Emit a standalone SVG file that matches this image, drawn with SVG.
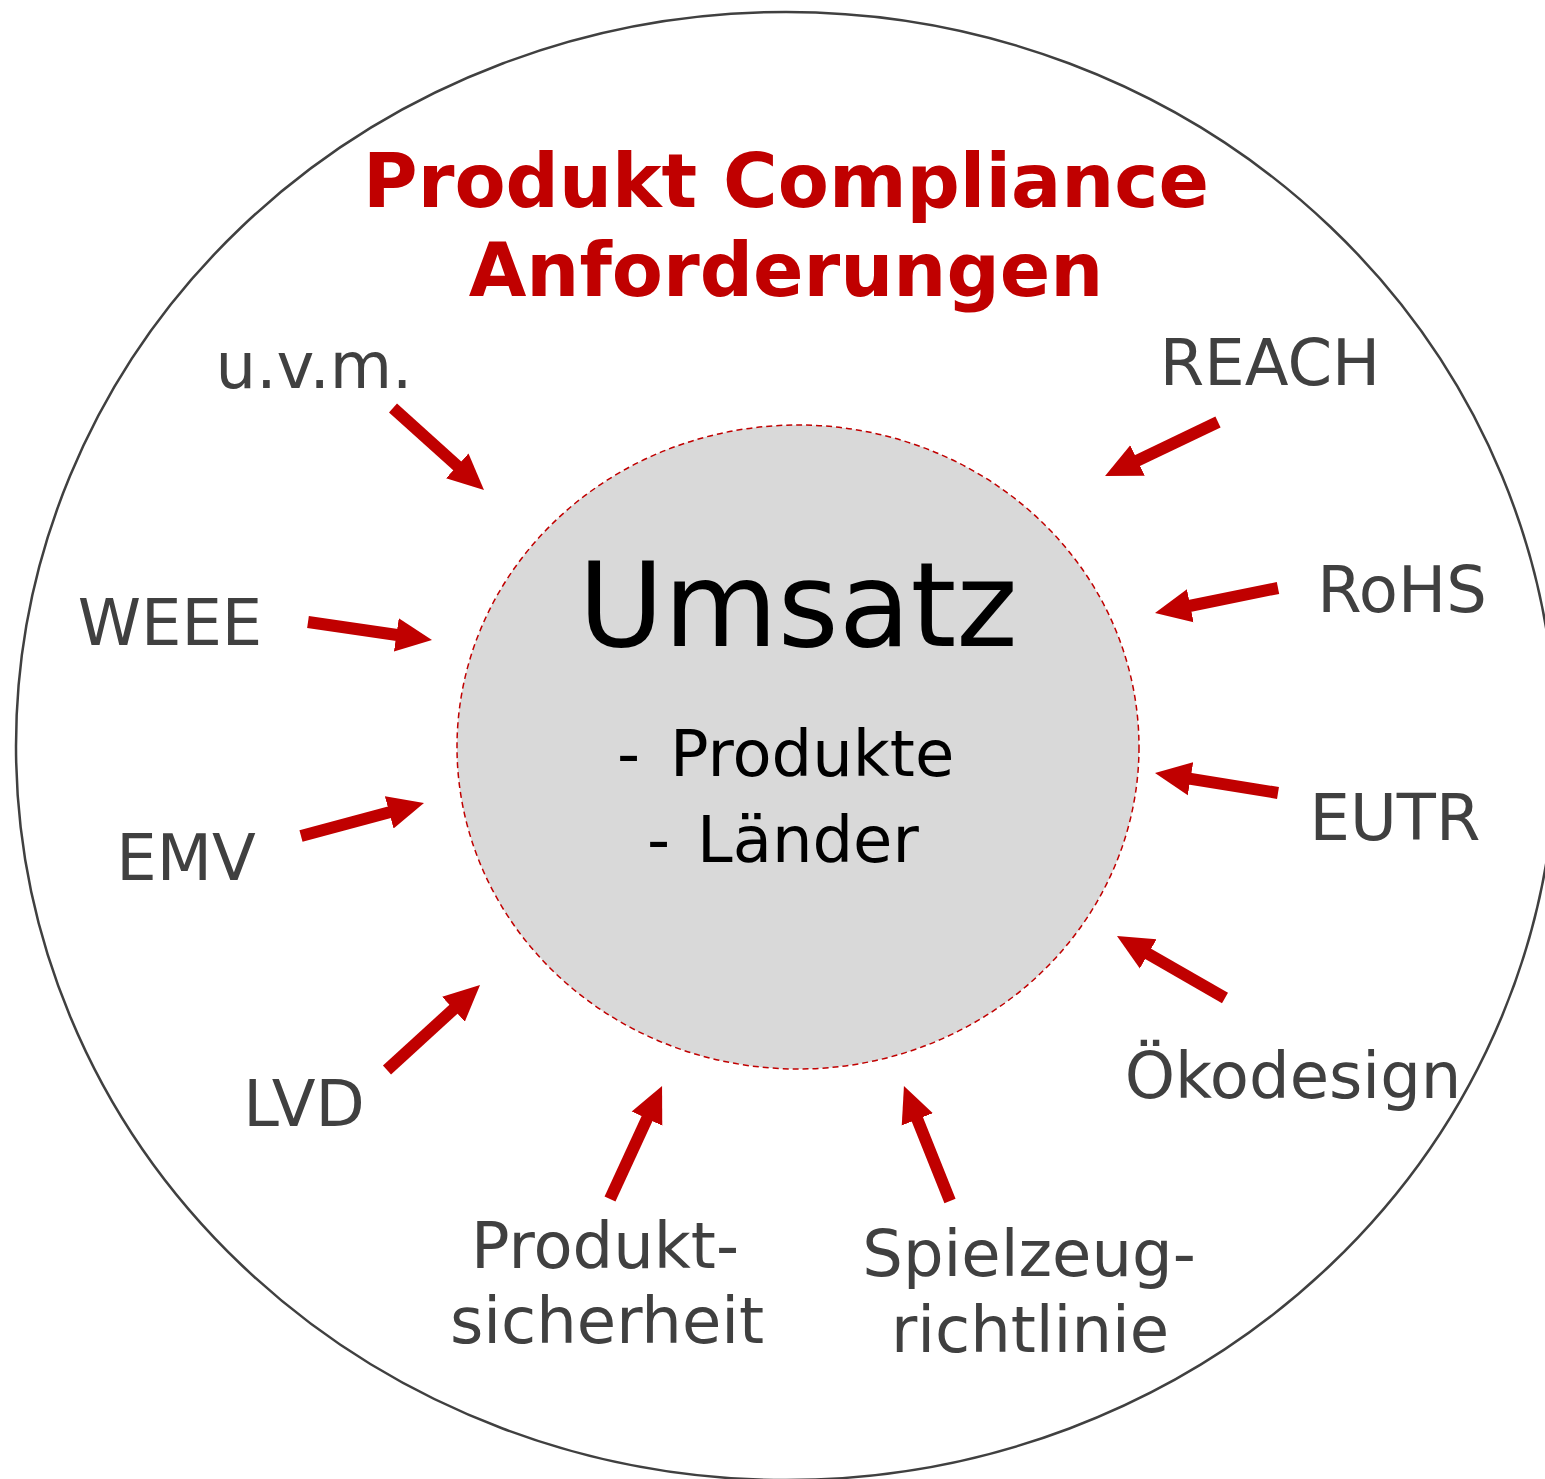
<svg xmlns="http://www.w3.org/2000/svg" width="1545" height="1479" viewBox="0 0 1545 1479">
<style>
.lbl{font-family:"DejaVu Sans",Verdana,sans-serif;font-size:64px;fill:#404040;text-anchor:middle}
.title{font-family:"DejaVu Sans",Verdana,sans-serif;font-size:74.5px;font-weight:bold;fill:#c00000;text-anchor:middle}
.core{font-family:"DejaVu Sans",Verdana,sans-serif;fill:#000}
.arr{stroke:#c00000;stroke-width:12;fill:none;marker-end:url(#ah)}
</style>
<defs>
<marker id="ah" markerUnits="strokeWidth" markerWidth="3" markerHeight="3" refX="0.5" refY="1.4" orient="auto" viewBox="0 0 3 2.8">
<path d="M0,0 L3,1.4 L0,2.8 z" fill="#c00000"/>
</marker>
</defs>
<rect width="1545" height="1479" fill="#fff"/>
<g id="outer">
<ellipse cx="786" cy="746" rx="770" ry="734" fill="none" stroke="#404040" stroke-width="2.5"/>
</g>
<g id="title">
<text class="title" x="786" y="207">Produkt Compliance</text>
<text class="title" x="786" y="296">Anforderungen</text>
</g>
<g id="center">
<ellipse cx="798" cy="747" rx="341" ry="322" fill="#d9d9d9" stroke="#c00000" stroke-width="1.5" stroke-dasharray="6,4"/>
<text class="core" x="798" y="646" font-size="117" text-anchor="middle">Umsatz</text>
<text class="core" x="617" y="776" font-size="64">-</text>
<text class="core" x="670" y="776" font-size="64">Produkte</text>
<text class="core" x="647" y="862" font-size="64">-</text>
<text class="core" x="697" y="862" font-size="64">Länder</text>
</g>
<g id="connectors">
<line class="arr" x1="393" y1="408" x2="461.7" y2="469.9"/>
<line class="arr" x1="1218" y1="422" x2="1132.1" y2="463.1"/>
<line class="arr" x1="308" y1="622" x2="402.3" y2="635.7"/>
<line class="arr" x1="1278" y1="588" x2="1184.4" y2="607.0"/>
<line class="arr" x1="301" y1="836" x2="395.0" y2="810.8"/>
<line class="arr" x1="1278" y1="793" x2="1184.6" y2="777.8"/>
<line class="arr" x1="387" y1="1070" x2="457.9" y2="1005.2"/>
<line class="arr" x1="1225" y1="998" x2="1143.0" y2="950.9"/>
<line class="arr" x1="610" y1="1199" x2="649.5" y2="1113.2"/>
<line class="arr" x1="950" y1="1201" x2="915.1" y2="1113.8"/>
</g>
<g id="n-uvm"><text class="lbl" x="314" y="388">u.v.m.</text></g>
<g id="n-reach"><text class="lbl" x="1270" y="385">REACH</text></g>
<g id="n-weee"><text class="lbl" x="170" y="645">WEEE</text></g>
<g id="n-rohs"><text class="lbl" x="1402" y="612">RoHS</text></g>
<g id="n-emv"><text class="lbl" x="186" y="880">EMV</text></g>
<g id="n-eutr"><text class="lbl" x="1395" y="840">EUTR</text></g>
<g id="n-lvd"><text class="lbl" x="304" y="1126">LVD</text></g>
<g id="n-oeko"><text class="lbl" x="1293" y="1098">Ökodesign</text></g>
<g id="n-ps"><text class="lbl" x="605" y="1268">Produkt-</text><text class="lbl" x="607" y="1343">sicherheit</text></g>
<g id="n-sz"><text class="lbl" x="1029" y="1276">Spielzeug-</text><text class="lbl" x="1030" y="1352">richtlinie</text></g>
</svg>
